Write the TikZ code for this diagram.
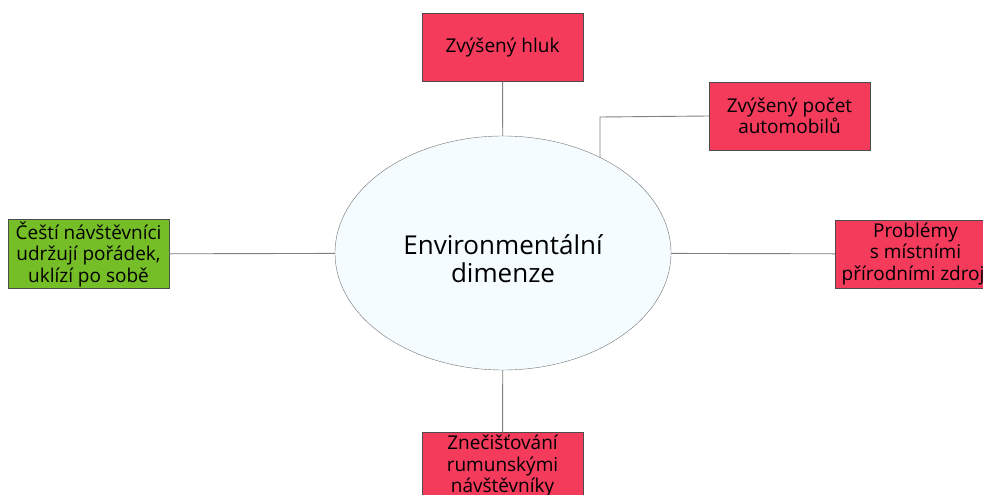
\documentclass[tikz,border=0pt]{standalone}
\usepackage{fontspec}
\setmainfont{Open Sans}
\usetikzlibrary{shapes}
\definecolor{boxred}{RGB}{244,59,92}
\definecolor{boxgreen}{RGB}{118,190,40}
\definecolor{ellfill}{RGB}{245,252,255}
\tikzstyle{dimension} = [ellipse, draw=black!55, fill=ellfill, minimum width=336pt, minimum height=234pt, inner sep=0pt]
\tikzstyle{dimtext} = [align=center, yshift=-6pt, font=\fontsize{26}{28}\selectfont]
\tikzstyle{impact} = [rectangle, draw=black!70, fill=boxred, minimum width=161pt, minimum height=68pt, inner sep=2pt, align=center, font=\fontsize{19}{21.5}\selectfont]
\tikzstyle{good} = [impact, fill=boxgreen]
\tikzstyle{link} = [draw, black!50, line width=0.9pt]

\begin{document}
\begin{tikzpicture}[x=1pt, y=-1pt]
    \useasboundingbox (0,0) rectangle (983,495);
    \clip (0,0) rectangle (983,495);
    % Draw the nodes.
    \node [dimension, label={[dimtext]center:Environmentální\\dimenze}] (dim) at (503, 253) {};
    \node [impact] (hluk) at (502.5, 47.5) {Zvýšený hluk};
    \node [impact] (auta) at (789.5, 116) {Zvýšený počet\\automobilů};
    \node [good] (cesti) at (88.5, 254) {Čeští návštěvníci\\udržují pořádek,\\uklízí po sobě};
    \node [impact] (zdroje) at (915.5, 254) {Problémy\\s místními\\přírodními zdroji};
    \node [impact, anchor=north] (rumuni) at (502.5, 432) {Znečišťování\\rumunskými\\návštěvníky};
    % Corner of the elbow link.
    \coordinate (k) at (600, 117);
    \coordinate (e) at (600, 157.5);
    % Links to the centre.
    \path [link] (hluk) -- (dim);
    \path [link] (auta.west) -- (k) -- (e);
    \path [link] (cesti) -- (dim);
    \path [link] (zdroje) -- (dim);
    \path [link] (rumuni) -- (dim);
\end{tikzpicture}
\end{document}
